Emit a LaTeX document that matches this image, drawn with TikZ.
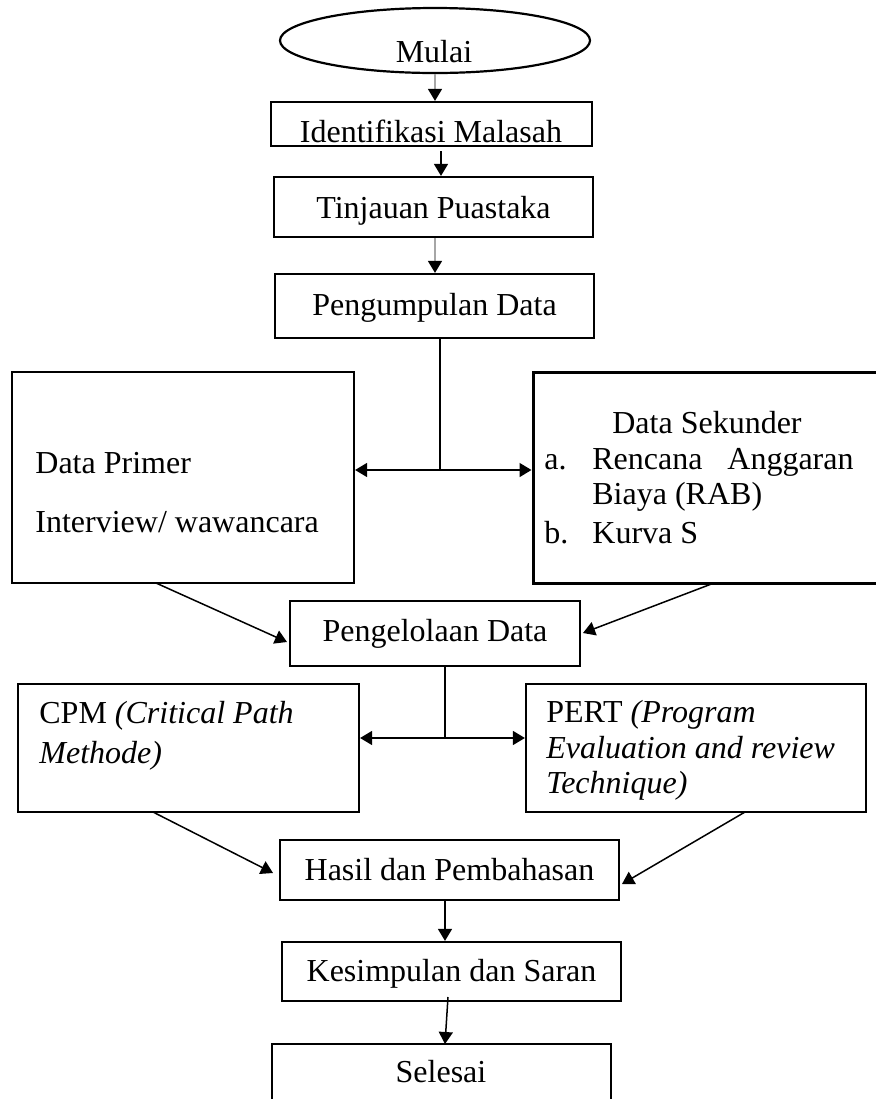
\documentclass[tikz,border=0pt]{standalone}
\usepackage{fontspec}
\setmainfont{Liberation Serif}
\usetikzlibrary{arrows.meta,shapes.geometric,fit,calc}
\tikzset{
  box/.style={draw, line width=1.1pt, inner sep=0pt},
  txt/.style={font=\fontsize{16}{19}\selectfont, inner sep=0pt},
  conn/.style={line width=0.75pt, -{Triangle[length=6pt,width=7pt]}},
  gconn/.style={draw=gray!70, line width=0.75pt, -{Triangle[length=6pt,width=7pt,color=black]}},
  dconn/.style={line width=0.75pt, {Triangle[length=6pt,width=7pt]}-{Triangle[length=6pt,width=7pt]}},
  plainline/.style={line width=0.75pt},
}
\begin{document}
\begin{tikzpicture}[x=0.5pt,y=-0.5pt]
\useasboundingbox[fill=white] (0,0) rectangle (875,1099);

% Start
\node[ellipse, draw, line width=1.1pt, inner sep=0pt, minimum width=155pt, minimum height=32.5pt] (mulai) at (435,40.5) {};
\node[txt, anchor=base] (mulaiT) at (434,62) {Mulai};

% Boxes
\node[box, fit={(271,102) (592,146)}] (ident) {};
\node[txt, anchor=base] (identT) at (431,142) {Identifikasi Malasah};

\node[box, fit={(274,177) (593,237)}] (tinj) {};
\node[txt, anchor=base] (tinjT) at (433.5,218) {Tinjauan Puastaka};

\node[box, fit={(275,274) (594,338)}] (peng) {};
\node[txt, anchor=base] (pengT) at (434.5,315) {Pengumpulan Data};

\node[box, fit={(12,372) (354,583)}] (primer) {};
\node[txt, anchor=base west] (primerT1) at (35,473) {Data Primer};
\node[txt, anchor=base west] (primerT2) at (35,532) {Interview/ wawancara};

\node[box, line width=1.5pt, fit={(533,372) (878,583)}] (sekunder) {};
\node[txt, anchor=base] (sekT0) at (707,433) {Data Sekunder};
\node[txt, anchor=base west] (sekA) at (544,469) {a.};
\node[txt, anchor=base west] (sekA1) at (592,469) {Rencana};
\node[txt, anchor=base east] (sekA2) at (854,469) {Anggaran};
\node[txt, anchor=base west] (sekA3) at (592,504) {Biaya (RAB)};
\node[txt, anchor=base west] (sekB) at (544,543) {b.};
\node[txt, anchor=base west] (sekB1) at (592,543) {Kurva S};

\node[box, fit={(290,601) (580,666)}] (olah) {};
\node[txt, anchor=base] (olahT) at (435,641) {Pengelolaan Data};

\node[box, fit={(18,684) (359,812)}] (cpm) {};
\node[txt, anchor=base west] (cpmT1) at (39,723) {CPM \textit{(Critical Path}};
\node[txt, anchor=base west] (cpmT2) at (39,763) {\textit{Methode)}};

\node[box, fit={(526,684) (866,812)}] (pert) {};
\node[txt, anchor=base west] (pertT1) at (546,722) {PERT \textit{(Program}};
\node[txt, anchor=base west] (pertT2) at (546,758) {\textit{Evaluation and review}};
\node[txt, anchor=base west] (pertT3) at (546,793) {\textit{Technique)}};

\node[box, fit={(280,840) (619,900)}] (hasil) {};
\node[txt, anchor=base] (hasilT) at (449.5,880) {Hasil dan Pembahasan};

\node[box, fit={(282,942) (621,1001)}] (simpul) {};
\node[txt, anchor=base] (simpulT) at (451.5,981) {Kesimpulan dan Saran};

\node[box, fit={(272,1044) (611,1110)}] (selesai) {};
\node[txt, anchor=base] (selesaiT) at (441,1082) {Selesai};

% Connectors
\draw[gconn] (mulai.south) -- (mulai.south |- ident.north);
\coordinate (c1) at ($(ident.south)+(9.5,4)$);
\draw[conn] (c1) -- (c1 |- tinj.north);
\coordinate (c2) at ($(tinj.south)+(1.5,0)$);
\draw[gconn] (c2) -- (c2 |- peng.north);

\coordinate (s1) at (440,470);
\draw[plainline] (peng.south -| s1) -- (s1);
\draw[dconn] (primer.east |- s1) -- (sekunder.west |- s1);

\coordinate (p1) at (156,583);
\coordinate (p2) at (287,642);
\draw[conn] (p1) -- (p2);
\coordinate (q1) at (714,583);
\coordinate (q2) at (583,633);
\draw[conn] (q1) -- (q2);

\coordinate (s2) at (445,738);
\draw[plainline] (olah.south -| s2) -- (s2);
\draw[dconn] (cpm.east |- s2) -- (pert.west |- s2);

\coordinate (r1) at (153,812);
\coordinate (r2) at (273,873);
\draw[conn] (r1) -- (r2);
\coordinate (t1) at (745,812);
\coordinate (t2) at (622,884);
\draw[conn] (t1) -- (t2);

\coordinate (h1) at (445,900);
\draw[conn] (h1) -- (h1 |- simpul.north);
\coordinate (k1) at (448,997);
\coordinate (k2) at (445,1044);
\draw[conn] (k1) -- (k2);
\end{tikzpicture}
\end{document}
